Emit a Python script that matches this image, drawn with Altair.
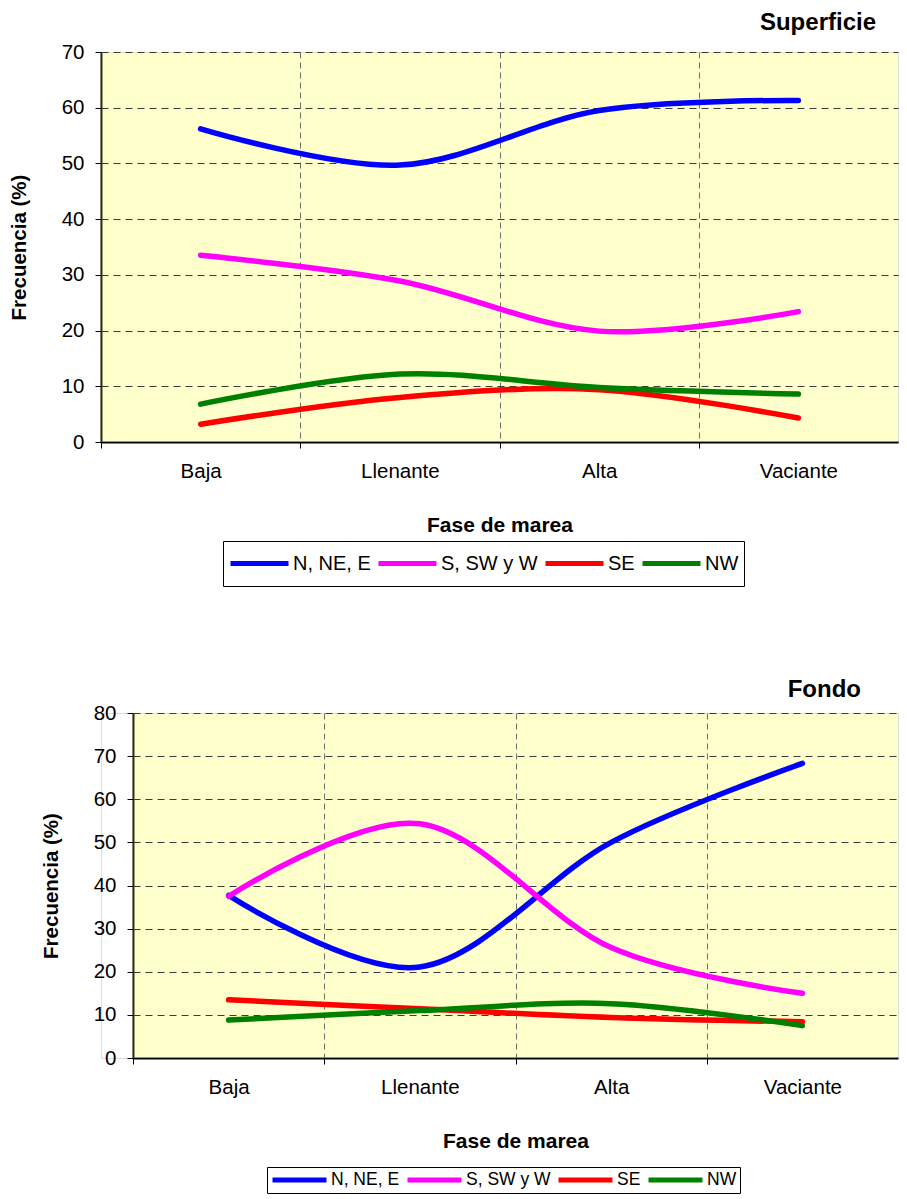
import json
import altair as alt
import pandas as pd

FONT = "Liberation Sans"

fases = ["Baja", "Llenante", "Alta", "Vaciante"]
series = ["N, NE, E", "S, SW y W", "SE", "NW"]
colores = ["#0000FF", "#FF00FF", "#FF0000", "#008000"]

# Superficie
sup_n_ne_e = [56.2, 49.7, 59.5, 61.3]
sup_s_sw_w = [33.5, 28.9, 19.9, 23.4]
sup_se = [3.2, 8.0, 9.4, 4.3]
sup_nw = [6.8, 12.2, 9.8, 8.6]

# Fondo
fon_n_ne_e = [37.7, 21.1, 50.0, 68.3]
fon_s_sw_w = [37.5, 54.3, 25.6, 15.0]
fon_se = [13.5, 11.4, 9.4, 8.4]
fon_nw = [8.8, 11.0, 12.6, 7.5]

ticks_sup = [0, 10, 20, 30, 40, 50, 60, 70]
ticks_fon = [0, 10, 20, 30, 40, 50, 60, 70, 80]

# the plot background is a translucent yellow layer laid over the grid;
# grid colours are chosen so that, seen through it, they look grey
GRID_H = "#0B0B4B"
GRID_V = "#4A4A83"

N = len(fases)
LABEL_EXPR = "%s[datum.value]" % json.dumps(fases)


def tabla(valores):
    filas = []
    for s, vals in zip(series, valores):
        for i, (f, v) in enumerate(zip(fases, vals)):
            filas.append({"fase": f, "serie": s, "valor": v, "pos": i + 0.5})
    return pd.DataFrame(filas)


def panel(titulo, valores, ticks, x_range, y_offset, title_dx, title_offset,
          leg_x, leg_y, leg_font, leg_sym, leg_clip, leg_pad, leg_gap, leg_col,
          height):
    ymax = ticks[-1]
    band = (x_range[1] - x_range[0]) / N
    x_scale = alt.Scale(domain=[0, N], range=x_range, nice=False, zero=False)
    x_axis = alt.Axis(
        title="Fase de marea", values=list(range(N)), labelExpr=LABEL_EXPR,
        labelOffset=band / 2, labelFlush=False, labelOverlap=False,
        grid=True, gridColor=GRID_V, gridDash=[6, 4], gridWidth=1,
        domainColor="#000", domainWidth=2,
        tickColor="#000", tickSize=6, tickWidth=1, labelAngle=0, labelPadding=13.5,
        labelFont=FONT, labelFontSize=20.5, labelColor="#000",
        titleFont=FONT, titleFontSize=21, titleFontWeight="bold",
        titleColor="#000", titlePadding=32)
    y_scale = alt.Scale(domain=[0, ymax], nice=False, zero=True)
    y_axis = alt.Axis(
        title="Frecuencia (%)", values=ticks, grid=True, gridColor=GRID_H,
        gridDash=[7, 5], gridWidth=1, domainColor="#000", domainWidth=2,
        tickColor="#000", tickSize=6, tickWidth=1, labelPadding=11,
        labelFont=FONT, labelFontSize=20.5, labelColor="#000",
        titleFont=FONT, titleFontSize=20.5, titleFontWeight="bold",
        titleColor="#000", titlePadding=32, offset=y_offset)

    fondo = alt.Chart(pd.DataFrame({"fase": [fases[0]]})).mark_rect(
        color="#FFFF00", opacity=0.2
    ).encode(
        x=alt.XDatum(0, type="quantitative", scale=x_scale, axis=x_axis,
                     title="Fase de marea"),
        x2=alt.datum(N),
        y=alt.YDatum(0, type="quantitative", scale=y_scale, axis=y_axis,
                     title="Frecuencia (%)"),
        y2=alt.datum(ymax),
    )

    lineas = alt.Chart(tabla(valores)).mark_line(
        strokeWidth=5.5, interpolate="cardinal", strokeCap="round", strokeJoin="round"
    ).encode(
        x=alt.X("pos:Q", scale=x_scale, axis=x_axis, title="Fase de marea"),
        y=alt.Y("valor:Q", scale=y_scale, axis=y_axis, title="Frecuencia (%)"),
        color=alt.Color(
            "serie:N", sort=series, title=None,
            scale=alt.Scale(domain=series, range=colores),
            legend=alt.Legend(
                orient="none", legendX=leg_x, legendY=leg_y, direction="horizontal",
                symbolType="stroke", symbolSize=leg_sym, symbolStrokeWidth=5,
                labelFont=FONT, labelFontSize=leg_font, labelColor="#000",
                labelOffset=leg_gap, columnPadding=leg_col, padding=leg_pad,
                strokeColor="#000", fillColor="#FFFFFF", clipHeight=leg_clip,
                labelLimit=400),
        ),
        order=alt.Order("pos:Q"),
    )

    return alt.layer(fondo, lineas).properties(
        width=x_range[1], height=height,
        title=alt.TitleParams(
            titulo, anchor="end", frame="group", dx=title_dx, offset=title_offset,
            font=FONT, fontSize=24, fontWeight="bold", color="#000",
            baseline="alphabetic"),
    )


sup = panel("Superficie", [sup_n_ne_e, sup_s_sw_w, sup_se, sup_nw], ticks_sup,
            [0, 797], 0, -22, -12,
            122, 489, 20, 3364, 35, 5, 2, 5, 390)
fon = panel("Fondo", [fon_n_ne_e, fon_s_sw_w, fon_se, fon_nw], ticks_fon,
            [32, 797], -32, -37, -18,
            166, 454, 17.5, 2916, 20, 3, 2, 5, 345)

chart = alt.vconcat(sup, fon, spacing=90).resolve_scale(
    color="independent"
).properties(
    padding={"top": 2, "left": 0, "right": 0, "bottom": 0}
).configure_view(strokeWidth=0).configure(font=FONT)

chart.save("out.html", embed_options={"renderer": "svg", "actions": False})
